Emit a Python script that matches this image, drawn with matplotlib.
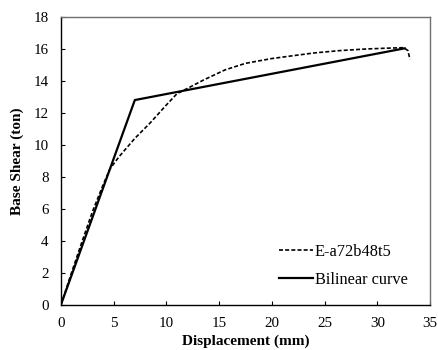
import matplotlib
matplotlib.use("Agg")
import matplotlib.pyplot as plt
import numpy as np


# pushover curve
pushover_disp = [0, 1.0, 2.0, 3.0, 4.0, 4.65, 5.5, 7.0, 8.5, 10.0, 11.0, 12.2, 13.5, 15.56,
	17.5, 20.0, 21.7, 24.0, 26.5, 29.0, 31.0, 32.5, 32.9, 33.1]
pushover_shear = [0, 2.0, 3.95, 5.85, 7.5, 8.5, 9.25, 10.4, 11.4, 12.5, 13.2, 13.6, 14.05, 14.69,
	15.1, 15.4, 15.55, 15.75, 15.9, 16.0, 16.05, 16.08, 15.9, 15.35]

# bilinear idealisation
bilinear_disp = [0, 7.0, 32.6]
bilinear_shear = [0, 12.8, 16.04]

x_ticks = [0, 5, 10, 15, 20, 25, 30, 35]
y_ticks = [0, 2, 4, 6, 8, 10, 12, 14, 16, 18]


plt.rcParams["font.family"] = ["Liberation Serif", "DejaVu Serif"]
tick_fontsize = 10.8

fig = plt.figure(figsize=(4.39, 3.5), dpi=100)
ax = fig.add_axes([0.139, 0.13, 0.8405, 0.8214])

ax.plot(
	pushover_disp,
	pushover_shear,
	color="black",
	linestyle=(0, (2.4, 1.3)),
	linewidth=1.2,
	label="E-a72b48t5",
)
ax.plot(
	bilinear_disp,
	bilinear_shear,
	color="black",
	linewidth=1.6,
	label="Bilinear curve",
)

ax.set_xlim(0, 35)
ax.set_ylim(0, 18)
ax.set_xticks(x_ticks)
ax.set_yticks(y_ticks)
ax.tick_params(
	direction="in",
	length=3,
	width=0.8,
	labelsize=tick_fontsize,
)
ax.tick_params(axis="x", pad=9)
ax.tick_params(axis="y", pad=9)

for side in ["left", "bottom"]:
	ax.spines[side].set_color("black")
	ax.spines[side].set_linewidth(1.0)
for side in ["top", "right"]:
	ax.spines[side].set_color("#707070")
	ax.spines[side].set_linewidth(1.0)

ax.set_xlabel("Displacement (mm)", fontsize=11, fontweight="bold", labelpad=3.5)
ax.set_ylabel("Base Shear (ton)", fontsize=11, fontweight="bold", labelpad=7)

ax.legend(
	loc="lower right",
	frameon=False,
	fontsize=11.8,
	handlelength=2.1,
	handletextpad=0.08,
	labelspacing=0.75,
	borderpad=0.3,
	bbox_to_anchor=(0.975, 0.012),
)

plt.savefig("out.png", dpi=100)
plt.close()
